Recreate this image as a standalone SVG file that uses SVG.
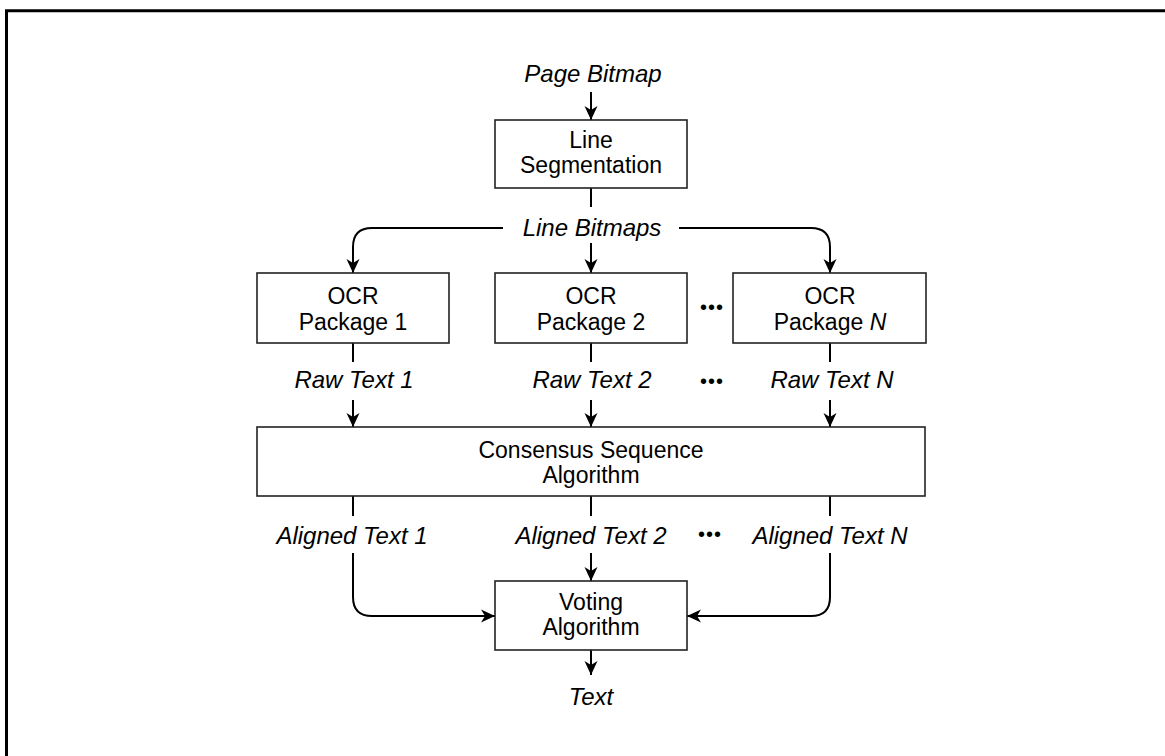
<svg xmlns="http://www.w3.org/2000/svg" width="1165" height="756" viewBox="0 0 1165 756">
<style>
text{font-family:"Liberation Sans",Arial,sans-serif;font-size:23px;fill:#000;text-anchor:middle}
.lbl{font-style:italic;font-size:24px}
.box{fill:#fff;stroke:#222;stroke-width:1.6}
.c{fill:none;stroke:#000;stroke-width:2}
.dots{font-size:20px;letter-spacing:1px}
</style>
<defs>
<marker id="ah" markerUnits="userSpaceOnUse" viewBox="-15 -7 16 14" markerWidth="16" markerHeight="14" refX="0" refY="0" orient="auto">
<path d="M0,0 L-14,-6.5 L-10,0 L-14,6.5 Z" fill="#000"/>
</marker>
</defs>
<rect width="1165" height="756" fill="#fff"/>
<path d="M6.5,756 V10.8 H1165" fill="none" stroke="#000" stroke-width="3"/>

<g id="connectors">
<path class="c" d="M591,92 V120" marker-end="url(#ah)"/>
<path class="c" d="M591,188 V207"/>
<path class="c" d="M503,228 H372 Q353,228 353,247 V273" marker-end="url(#ah)"/>
<path class="c" d="M591,243 V273" marker-end="url(#ah)"/>
<path class="c" d="M679,228 H811 Q830,228 830,247 V273" marker-end="url(#ah)"/>
<path class="c" d="M353,343 V362"/>
<path class="c" d="M591,343 V362"/>
<path class="c" d="M830,343 V362"/>
<path class="c" d="M353,400 V427" marker-end="url(#ah)"/>
<path class="c" d="M591,400 V427" marker-end="url(#ah)"/>
<path class="c" d="M830,400 V427" marker-end="url(#ah)"/>
<path class="c" d="M353,496 V516"/>
<path class="c" d="M591,496 V516"/>
<path class="c" d="M830,496 V516"/>
<path class="c" d="M353,553 V597 Q353,616 372,616 H495" marker-end="url(#ah)"/>
<path class="c" d="M591,553 V581" marker-end="url(#ah)"/>
<path class="c" d="M830,553 V597 Q830,616 811,616 H687" marker-end="url(#ah)"/>
<path class="c" d="M591,650 V675" marker-end="url(#ah)"/>
</g>

<g id="labels">
<text class="lbl" x="593" y="82">Page Bitmap</text>
<text class="lbl" x="592" y="236">Line Bitmaps</text>
<text class="lbl" x="354" y="388">Raw Text 1</text>
<text class="lbl" x="592" y="388">Raw Text 2</text>
<text class="lbl" x="832" y="388">Raw Text N</text>
<text class="lbl" x="352" y="544">Aligned Text 1</text>
<text class="lbl" x="591" y="544">Aligned Text 2</text>
<text class="lbl" x="830" y="544">Aligned Text N</text>
<text class="lbl" x="591" y="705">Text</text>
<text class="dots" x="712" y="314">•••</text>
<text class="dots" x="712" y="388">•••</text>
<text class="dots" x="710" y="541">•••</text>
</g>

<g id="line-segmentation">
<rect class="box" x="495" y="120" width="192" height="68"/>
<text x="591" y="148">Line</text>
<text x="591" y="173">Segmentation</text>
</g>
<g id="ocr1">
<rect class="box" x="257" y="273" width="192" height="70"/>
<text x="353" y="304">OCR</text>
<text x="353" y="330">Package 1</text>
</g>
<g id="ocr2">
<rect class="box" x="495" y="273" width="192" height="70"/>
<text x="591" y="304">OCR</text>
<text x="591" y="330">Package 2</text>
</g>
<g id="ocrN">
<rect class="box" x="733" y="273" width="193" height="70"/>
<text x="830" y="304">OCR</text>
<text x="830" y="330">Package <tspan font-style="italic">N</tspan></text>
</g>
<g id="consensus">
<rect class="box" x="257" y="427" width="668" height="69"/>
<text x="591" y="458">Consensus Sequence</text>
<text x="591" y="483">Algorithm</text>
</g>
<g id="voting">
<rect class="box" x="495" y="581" width="192" height="69"/>
<text x="591" y="610">Voting</text>
<text x="591" y="635">Algorithm</text>
</g>
</svg>
